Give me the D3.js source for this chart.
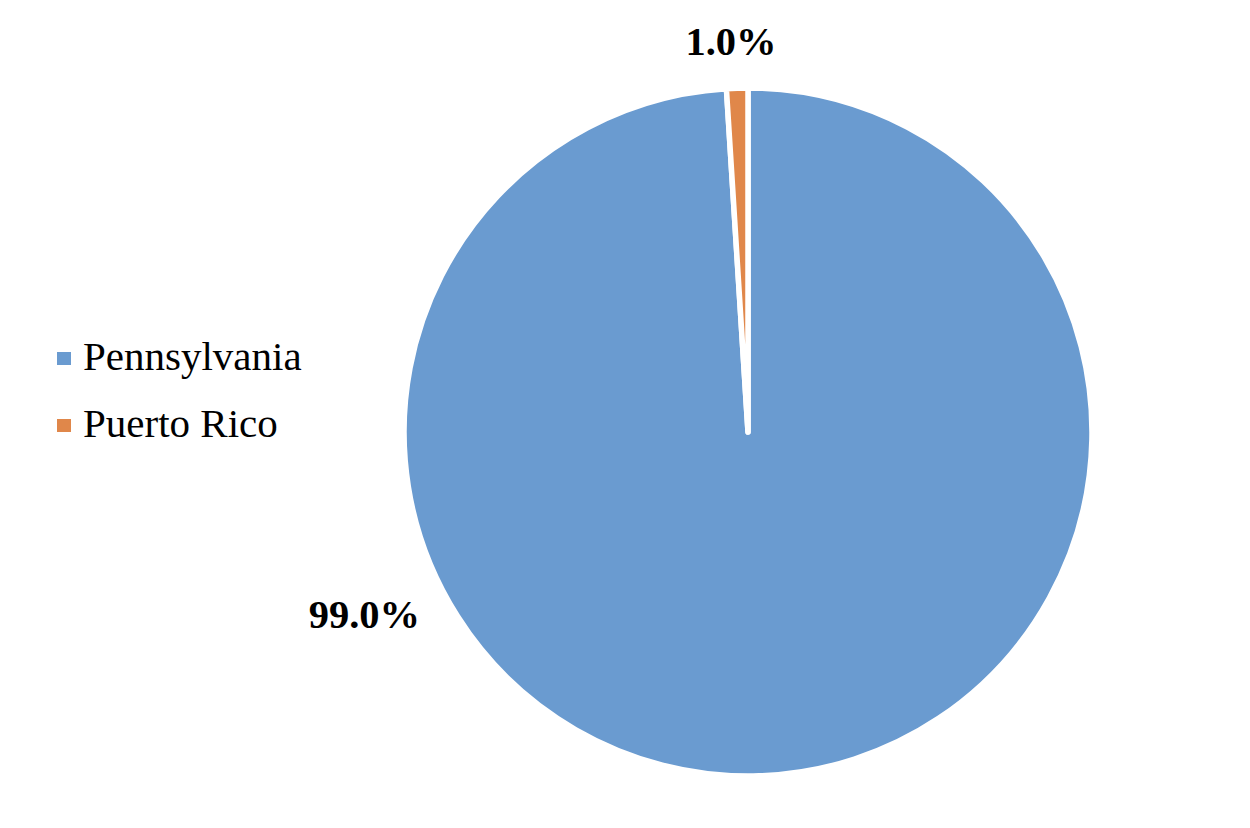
<!DOCTYPE html>
<html>
<head>
<meta charset="utf-8">
<script src="https://cdn.jsdelivr.net/npm/d3@7"></script>
<style>
  html, body { margin: 0; padding: 0; background: #fff; }
  svg { display: block; }
</style>
</head>
<body>
<svg id="chart" width="1250" height="828"></svg>
<script>
const categories = ["Pennsylvania", "Puerto Rico"];
const values = [99.0, 1.0];
const labels = ["99.0%", "1.0%"];
const colors = ["#6a9bd0", "#e0874a"];

const W = 1250, H = 828;
const cx = 748, cy = 432, R = 344;

const svg = d3.select("#chart");
const g = svg.append("g").attr("transform", `translate(${cx},${cy})`);

const pie = d3.pie().sort(null).value(d => d.v).startAngle(0).endAngle(2 * Math.PI);
const data = categories.map((c, i) => ({ c, v: values[i], label: labels[i], color: colors[i] }));
const arcs = pie(data);
const arc = d3.arc().innerRadius(0).outerRadius(R);

g.selectAll("path.slice").data(arcs).enter().append("path")
  .attr("class", "slice")
  .attr("d", arc)
  .attr("fill", d => d.data.color)
  .attr("stroke", "#fff")
  .attr("stroke-width", 5.5)
  .attr("stroke-linejoin", "round");

// data labels (best-fit style placement, polar offsets from centre)
const labelPolar = [
  { angleDeg: 244.5, r: 425 },  // Pennsylvania
  { angleDeg: 357.5, r: 391 }   // Puerto Rico
];
g.selectAll("text.dlabel").data(arcs).enter().append("text")
  .attr("class", "dlabel")
  .attr("x", (d, i) => labelPolar[i].r * Math.sin(labelPolar[i].angleDeg * Math.PI / 180))
  .attr("y", (d, i) => -labelPolar[i].r * Math.cos(labelPolar[i].angleDeg * Math.PI / 180))
  .attr("text-anchor", "middle")
  .attr("dominant-baseline", "central")
  .attr("font-family", "'Liberation Serif', 'Times New Roman', serif")
  .attr("font-weight", "bold")
  .attr("font-size", 40.5)
  .attr("fill", "#000")
  .text(d => d.data.label);

// legend
const legend = svg.append("g").attr("transform", "translate(57,0)");
const ly = d3.scalePoint().domain(categories).range([359, 426]);
const items = legend.selectAll("g.item").data(data).enter().append("g")
  .attr("class", "item")
  .attr("transform", d => `translate(0,${ly(d.c)})`);
items.append("rect")
  .attr("x", 0).attr("y", -7).attr("width", 14).attr("height", 13)
  .attr("fill", d => d.color);
items.append("text")
  .attr("x", 26).attr("y", 11)
  .attr("font-family", "'Liberation Serif', 'Times New Roman', serif")
  .attr("font-size", 41)
  .attr("fill", "#000")
  .text(d => d.c);
</script>
</body>
</html>
